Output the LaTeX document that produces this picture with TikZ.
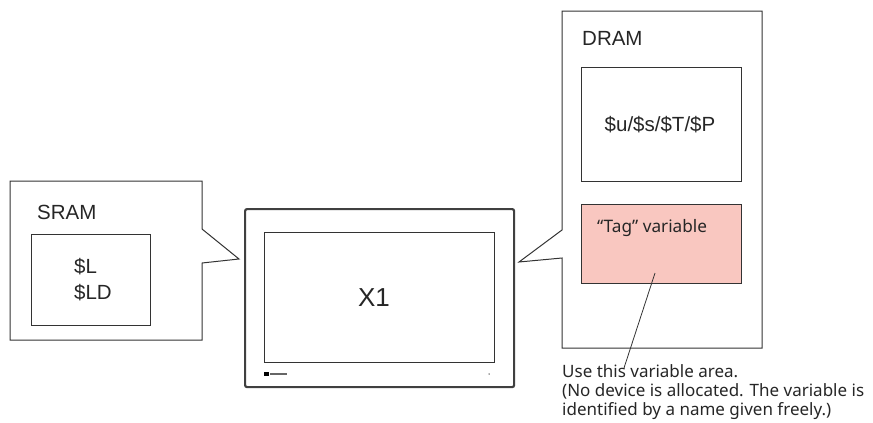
\documentclass[tikz,border=0pt]{standalone}
\usepackage{fontspec}
\setmainfont{Liberation Sans}
\newfontfamily\notefont{Noto Sans}
\usetikzlibrary{positioning}

\definecolor{tagpink}{HTML}{F9C7C0}
\definecolor{linegray}{HTML}{333333}

\begin{document}
\begin{tikzpicture}[x=1pt,y=-1pt,
	area_box/.style={draw=linegray,line width=1pt,inner sep=0pt,anchor=north west},
	callout/.style={draw=linegray,line width=1pt,line join=miter},
	big_label/.style={font=\fontsize{20.5}{26}\selectfont,text=black!85,inner sep=0pt},
	note_label/.style={font=\notefont\fontsize{17}{19}\selectfont,text=black!85,inner sep=0pt,anchor=base west,align=left}]

	\useasboundingbox (0,0) rectangle (873,423);

	% SRAM callout
	\draw[callout] (10,181) -- (202,181) -- (202,229) -- (239,259) -- (202,263)
		-- (202,340) -- (10,340) -- cycle;
	\node[big_label,anchor=base west] (sram) at (37,219) {SRAM};
	\node[area_box,minimum width=119pt,minimum height=91pt] (sram_box) at (31,234) {};
	\node[big_label,align=left,anchor=base west] (sram_vars) at (74,299)
		{\$L\\\$LD};

	% X1 unit
	\node[draw=black!75,line width=2.2pt,rounded corners=2pt,inner sep=0pt,anchor=north west,
		minimum width=269pt,minimum height=178pt] (x1_frame) at (244,208) {};
	\node[area_box,minimum width=230pt,minimum height=130pt] (x1_screen) at (264,232) {};
	\node[font=\fontsize{26}{30}\selectfont,text=black!85,inner sep=0pt] (x1) at (374,298) {X1};
	\node[fill=black,inner sep=0pt,minimum width=5pt,minimum height=4pt] (logo) at (266.5,374) {};
	\node[fill=black!60,inner sep=0pt,minimum width=17pt,minimum height=1.2pt,right=1pt of logo] (logo_text) {};
	\node[fill=black!70,circle,inner sep=0pt,minimum size=1.5pt] (led) at (489,374) {};

	% DRAM callout
	\draw[callout] (562,11) -- (762,11) -- (762,348) -- (562,348) -- (562,258)
		-- (519,262) -- (562,230) -- cycle;
	\node[big_label,anchor=base west] (dram) at (582,45) {DRAM};
	\node[area_box,minimum width=160pt,minimum height=114pt] (sys_box) at (581,67) {};
	\node[big_label] (sys_vars) at (660,125) {\$u/\$s/\$T/\$P};
	\node[area_box,fill=tagpink,minimum width=160pt,minimum height=79pt] (tag_box) at (581,204) {};
	\node[font=\notefont\fontsize{17.2}{19}\selectfont,text=black!85,inner sep=0pt,anchor=base west]
		(tag) at (597,232) {“Tag” variable};
	\coordinate (tag_pt) at (655,273);

	% note below the DRAM area
	\node[note_label] (note) at (562,415)
		{Use this variable area.\\(No device is allocated. The variable is\\identified by a name given freely.)};
	\coordinate (note_pt) at (624,368);
	\draw[linegray,line width=0.8pt] (tag_pt) -- (note_pt);
\end{tikzpicture}
\end{document}
